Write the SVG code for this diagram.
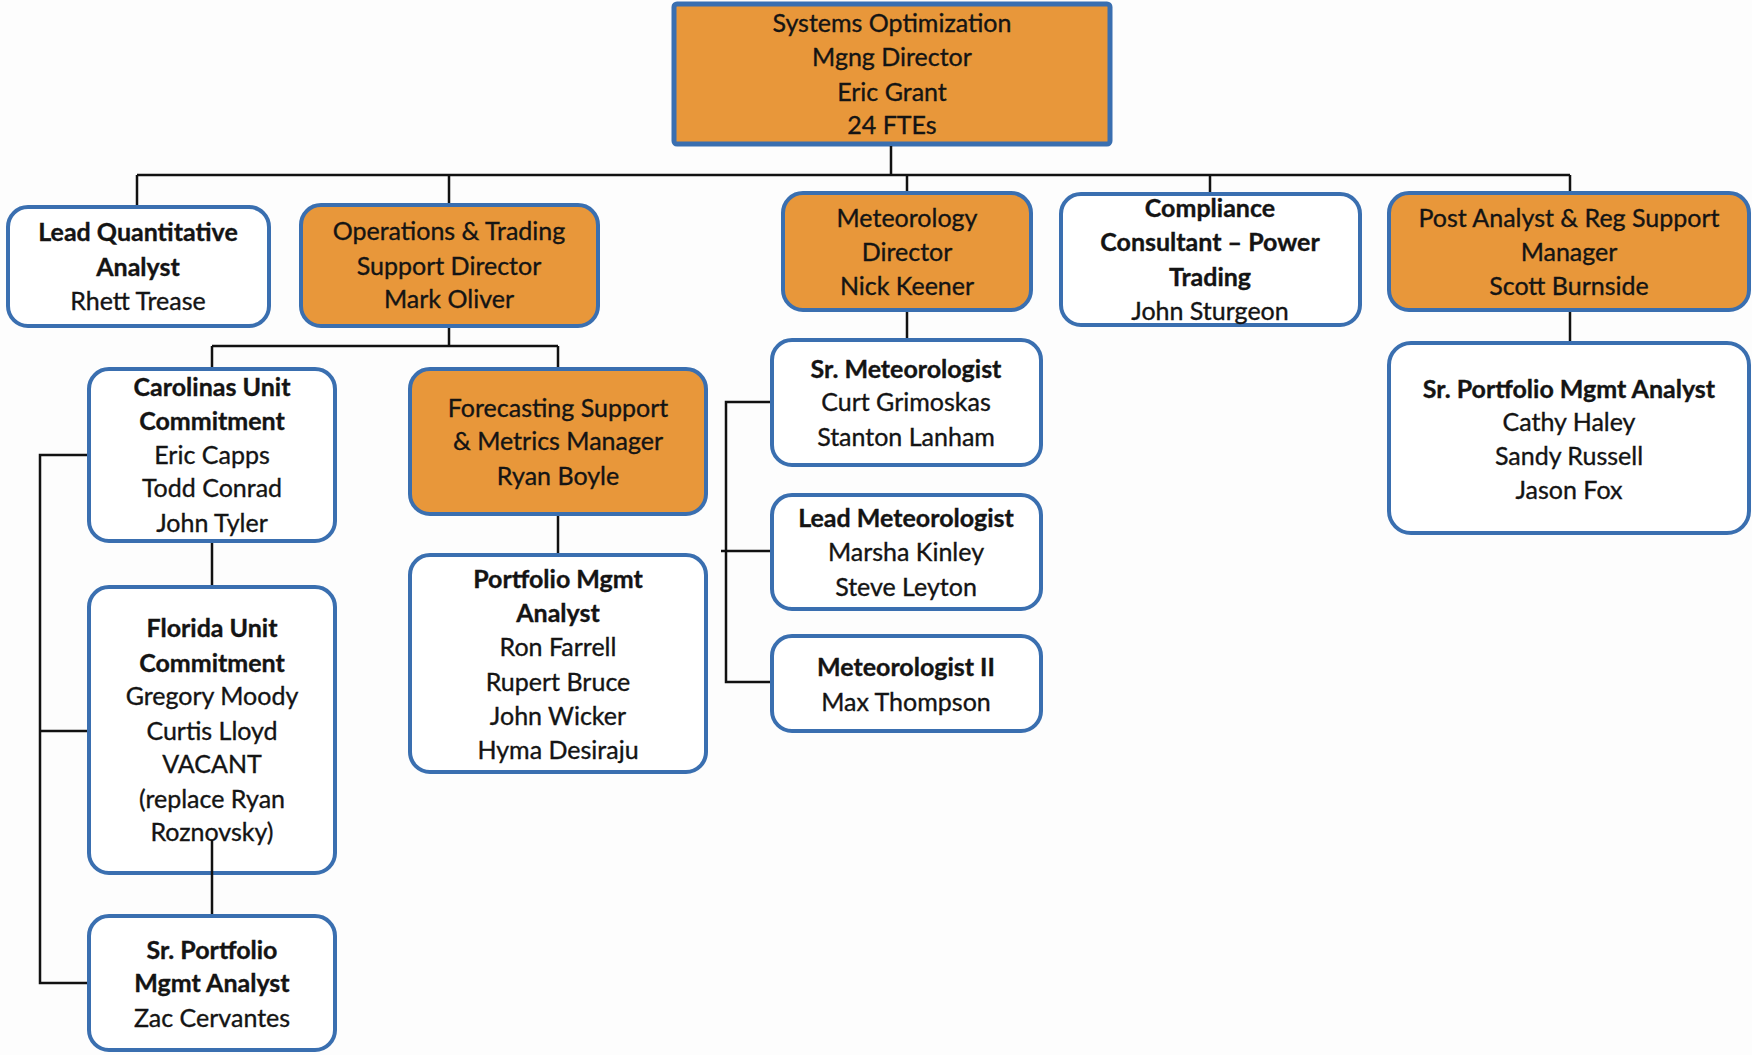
<svg xmlns="http://www.w3.org/2000/svg" width="1752" height="1055" viewBox="0 0 1752 1055">
<style>
.bg{fill:#fdfdfd}
.box{stroke:#3a6fb0;stroke-width:4}
.o{fill:#e8973a}
.w{fill:#ffffff}
.t{font-family:Lato,"Liberation Sans",sans-serif;font-size:25px;fill:#141414;text-anchor:middle;stroke:#141414;stroke-width:0.35}
.b{font-weight:bold}
.c{fill:none;stroke:#111;stroke-width:2.5}
</style>
<rect class="bg" x="0" y="0" width="1752" height="1055"/>
<g id="top">
<rect class="box o" x="674" y="4" width="436" height="140" rx="3" style="stroke-width:5"/>
<text class="t" x="892" y="32">Systems Optimization</text>
<text class="t" x="892" y="66">Mgng Director</text>
<text class="t" x="892" y="101">Eric Grant</text>
<text class="t" x="892" y="134">24 FTEs</text>
</g>
<g id="leadq">
<rect class="box w" x="8" y="207" width="261" height="119" rx="20"/>
<text class="t b" x="138" y="241">Lead Quantitative</text>
<text class="t b" x="138" y="276">Analyst</text>
<text class="t" x="138" y="310">Rhett Trease</text>
</g>
<g id="ops">
<rect class="box o" x="301" y="205" width="297" height="121" rx="20"/>
<text class="t" x="449" y="240">Operations &amp; Trading</text>
<text class="t" x="449" y="275">Support Director</text>
<text class="t" x="449" y="308">Mark Oliver</text>
</g>
<g id="metdir">
<rect class="box o" x="783" y="193" width="248" height="117" rx="20"/>
<text class="t" x="907" y="227">Meteorology</text>
<text class="t" x="907" y="261">Director</text>
<text class="t" x="907" y="295">Nick Keener</text>
</g>
<g id="compliance">
<rect class="box w" x="1061" y="194" width="299" height="131" rx="20"/>
<text class="t b" x="1210" y="217">Compliance</text>
<text class="t b" x="1210" y="251">Consultant – Power</text>
<text class="t b" x="1210" y="286">Trading</text>
<text class="t" x="1210" y="320">John Sturgeon</text>
</g>
<g id="post">
<rect class="box o" x="1389" y="193" width="360" height="117" rx="20"/>
<text class="t" x="1569" y="227">Post Analyst &amp; Reg Support</text>
<text class="t" x="1569" y="261">Manager</text>
<text class="t" x="1569" y="295">Scott Burnside</text>
</g>
<g id="carolinas">
<rect class="box w" x="89" y="369" width="246" height="172" rx="20"/>
<text class="t b" x="212" y="396">Carolinas Unit</text>
<text class="t b" x="212" y="430">Commitment</text>
<text class="t" x="212" y="464">Eric Capps</text>
<text class="t" x="212" y="497">Todd Conrad</text>
<text class="t" x="212" y="532">John Tyler</text>
</g>
<g id="forecasting">
<rect class="box o" x="410" y="369" width="296" height="145" rx="20"/>
<text class="t" x="558" y="417">Forecasting Support</text>
<text class="t" x="558" y="450">&amp; Metrics Manager</text>
<text class="t" x="558" y="485">Ryan Boyle</text>
</g>
<g id="florida">
<rect class="box w" x="89" y="587" width="246" height="286" rx="20"/>
<text class="t b" x="212" y="637">Florida Unit</text>
<text class="t b" x="212" y="672">Commitment</text>
<text class="t" x="212" y="705">Gregory Moody</text>
<text class="t" x="212" y="740">Curtis Lloyd</text>
<text class="t" x="212" y="773">VACANT</text>
<text class="t" x="212" y="808">(replace Ryan</text>
<text class="t" x="212" y="841">Roznovsky)</text>
</g>
<g id="srportfolio-left">
<rect class="box w" x="89" y="916" width="246" height="134" rx="20"/>
<text class="t b" x="212" y="959">Sr. Portfolio</text>
<text class="t b" x="212" y="992">Mgmt Analyst</text>
<text class="t" x="212" y="1027">Zac Cervantes</text>
</g>
<g id="portfolio-mgmt">
<rect class="box w" x="410" y="555" width="296" height="217" rx="20"/>
<text class="t b" x="558" y="588">Portfolio Mgmt</text>
<text class="t b" x="558" y="622">Analyst</text>
<text class="t" x="558" y="656">Ron Farrell</text>
<text class="t" x="558" y="691">Rupert Bruce</text>
<text class="t" x="558" y="725">John Wicker</text>
<text class="t" x="558" y="759">Hyma Desiraju</text>
</g>
<g id="srmet">
<rect class="box w" x="772" y="340" width="269" height="125" rx="20"/>
<text class="t b" x="906" y="378">Sr. Meteorologist</text>
<text class="t" x="906" y="411">Curt Grimoskas</text>
<text class="t" x="906" y="446">Stanton Lanham</text>
</g>
<g id="leadmet">
<rect class="box w" x="772" y="495" width="269" height="114" rx="20"/>
<text class="t b" x="906" y="527">Lead Meteorologist</text>
<text class="t" x="906" y="561">Marsha Kinley</text>
<text class="t" x="906" y="596">Steve Leyton</text>
</g>
<g id="met2">
<rect class="box w" x="772" y="636" width="269" height="95" rx="20"/>
<text class="t b" x="906" y="676">Meteorologist II</text>
<text class="t" x="906" y="711">Max Thompson</text>
</g>
<g id="srportfolio-right">
<rect class="box w" x="1389" y="343" width="360" height="190" rx="22"/>
<text class="t b" x="1569" y="398">Sr. Portfolio Mgmt Analyst</text>
<text class="t" x="1569" y="431">Cathy Haley</text>
<text class="t" x="1569" y="465">Sandy Russell</text>
<text class="t" x="1569" y="499">Jason Fox</text>
</g>
<g id="connectors">
<path class="c" d="M891 146 V175 M137 175 H1570 M137 175 V205 M449 175 V203 M907 175 V191 M1210 175 V192 M1570 175 V191"/>
<path class="c" d="M449 328 V346 M212 346 H558 M212 346 V367 M558 346 V367"/>
<path class="c" d="M212 543 V585 M212 840 V914"/>
<path class="c" d="M87 455 H40 V983 H87 M40 731 H87"/>
<path class="c" d="M558 516 V553"/>
<path class="c" d="M907 312 V338 M770 402 H726 V682 H770 M721 551 H770"/>
<path class="c" d="M1570 312 V341"/>
</g>
</svg>
